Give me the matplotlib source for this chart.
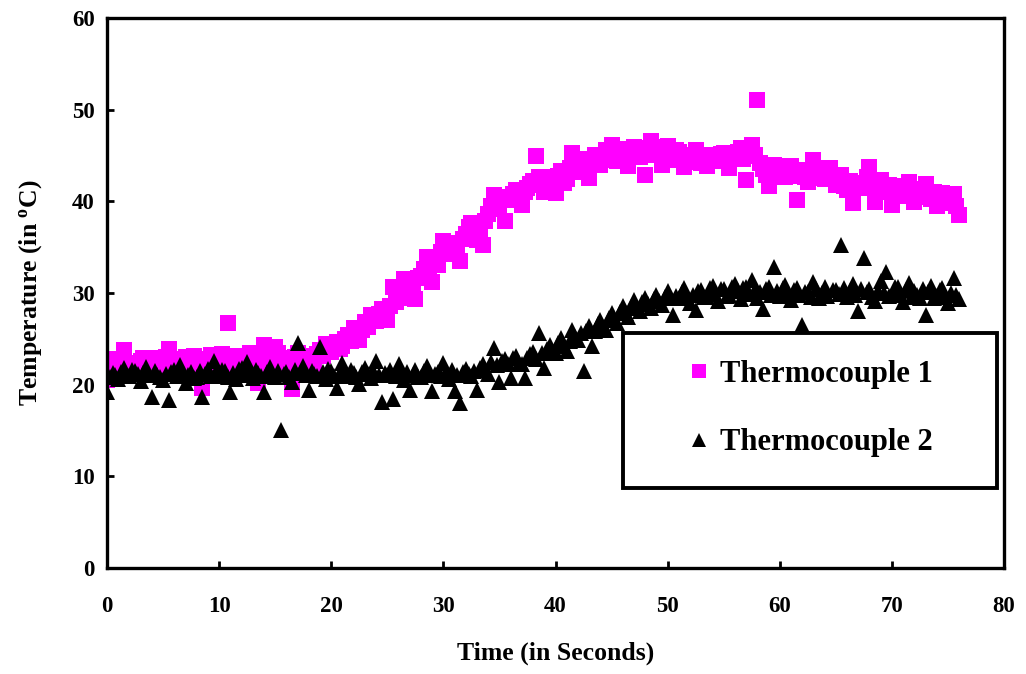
import matplotlib
matplotlib.use("Agg")
import matplotlib.pyplot as plt
from matplotlib.patches import Rectangle

plt.rcParams['font.family'] = ['Liberation Serif', 'DejaVu Serif']
plt.rcParams['font.weight'] = 'bold'
plt.rcParams['mathtext.default'] = 'regular'

# time axis (s), logged every quarter second
time_s = [
    0.0, 0.25, 0.5, 0.75, 1.0, 1.25, 1.5, 1.75,
    2.0, 2.25, 2.5, 2.75, 3.0, 3.25, 3.5, 3.75,
    4.0, 4.25, 4.5, 4.75, 5.0, 5.25, 5.5, 5.75,
    6.0, 6.25, 6.5, 6.75, 7.0, 7.25, 7.5, 7.75,
    8.0, 8.25, 8.5, 8.75, 9.0, 9.25, 9.5, 9.75,
    10.0, 10.25, 10.5, 10.75, 11.0, 11.25, 11.5, 11.75,
    12.0, 12.25, 12.5, 12.75, 13.0, 13.25, 13.5, 13.75,
    14.0, 14.25, 14.5, 14.75, 15.0, 15.25, 15.5, 15.75,
    16.0, 16.25, 16.5, 16.75, 17.0, 17.25, 17.5, 17.75,
    18.0, 18.25, 18.5, 18.75, 19.0, 19.25, 19.5, 19.75,
    20.0, 20.25, 20.5, 20.75, 21.0, 21.25, 21.5, 21.75,
    22.0, 22.25, 22.5, 22.75, 23.0, 23.25, 23.5, 23.75,
    24.0, 24.25, 24.5, 24.75, 25.0, 25.25, 25.5, 25.75,
    26.0, 26.25, 26.5, 26.75, 27.0, 27.25, 27.5, 27.75,
    28.0, 28.25, 28.5, 28.75, 29.0, 29.25, 29.5, 29.75,
    30.0, 30.25, 30.5, 30.75, 31.0, 31.25, 31.5, 31.75,
    32.0, 32.25, 32.5, 32.75, 33.0, 33.25, 33.5, 33.75,
    34.0, 34.25, 34.5, 34.75, 35.0, 35.25, 35.5, 35.75,
    36.0, 36.25, 36.5, 36.75, 37.0, 37.25, 37.5, 37.75,
    38.0, 38.25, 38.5, 38.75, 39.0, 39.25, 39.5, 39.75,
    40.0, 40.25, 40.5, 40.75, 41.0, 41.25, 41.5, 41.75,
    42.0, 42.25, 42.5, 42.75, 43.0, 43.25, 43.5, 43.75,
    44.0, 44.25, 44.5, 44.75, 45.0, 45.25, 45.5, 45.75,
    46.0, 46.25, 46.5, 46.75, 47.0, 47.25, 47.5, 47.75,
    48.0, 48.25, 48.5, 48.75, 49.0, 49.25, 49.5, 49.75,
    50.0, 50.25, 50.5, 50.75, 51.0, 51.25, 51.5, 51.75,
    52.0, 52.25, 52.5, 52.75, 53.0, 53.25, 53.5, 53.75,
    54.0, 54.25, 54.5, 54.75, 55.0, 55.25, 55.5, 55.75,
    56.0, 56.25, 56.5, 56.75, 57.0, 57.25, 57.5, 57.75,
    58.0, 58.25, 58.5, 58.75, 59.0, 59.25, 59.5, 59.75,
    60.0, 60.25, 60.5, 60.75, 61.0, 61.25, 61.5, 61.75,
    62.0, 62.25, 62.5, 62.75, 63.0, 63.25, 63.5, 63.75,
    64.0, 64.25, 64.5, 64.75, 65.0, 65.25, 65.5, 65.75,
    66.0, 66.25, 66.5, 66.75, 67.0, 67.25, 67.5, 67.75,
    68.0, 68.25, 68.5, 68.75, 69.0, 69.25, 69.5, 69.75,
    70.0, 70.25, 70.5, 70.75, 71.0, 71.25, 71.5, 71.75,
    72.0, 72.25, 72.5, 72.75, 73.0, 73.25, 73.5, 73.75,
    74.0, 74.25, 74.5, 74.75, 75.0, 75.25, 75.5, 75.75,
    76.0,
]

thermo1 = [
    20.5, 21.9, 22.8, 22.2, 21.5, 22.6, 23.8, 22.4,
    22.0, 21.6, 21.2, 22.3, 22.6, 22.9, 21.8, 22.5,
    22.9, 22.1, 21.4, 22.7, 22.3, 23.0, 23.9, 22.6,
    22.1, 22.8, 21.6, 22.4, 23.0, 22.2, 22.4, 23.1,
    21.7, 22.0, 19.6, 22.5, 22.8, 23.2, 21.9, 22.6,
    22.5, 23.3, 22.8, 26.7, 22.0, 22.7, 23.1, 22.5,
    21.8, 22.9, 22.6, 23.5, 23.3, 21.5, 20.2, 22.8,
    24.3, 23.6, 22.2, 22.9, 24.1, 23.4, 22.9, 22.3,
    21.7, 22.8, 19.5, 23.0, 23.4, 22.6, 22.5, 23.1,
    23.0, 22.4, 21.9, 23.3, 23.8, 23.1, 24.4, 23.6,
    23.6, 24.1, 24.6, 23.9, 24.2, 25.0, 25.4, 24.8,
    26.2, 25.6, 24.9, 26.0, 26.8, 26.3, 27.6, 27.0,
    26.9, 27.7, 28.2, 27.4, 27.0, 28.6, 30.6, 29.0,
    29.4, 30.3, 31.5, 30.7, 30.2, 31.0, 29.3, 31.6,
    31.8, 32.6, 33.9, 32.4, 31.2, 33.4, 33.0, 34.5,
    35.7, 34.8, 34.2, 35.5, 35.1, 34.4, 33.5, 35.9,
    36.4, 37.2, 37.6, 36.5, 35.8, 37.0, 35.2, 37.9,
    38.6, 39.5, 40.7, 39.4, 39.2, 40.2, 37.8, 40.5,
    40.1, 40.8, 41.2, 40.4, 39.6, 41.0, 41.5, 41.9,
    42.2, 44.9, 42.6, 41.8, 41.0, 42.3, 42.6, 41.6,
    40.9, 42.8, 43.3, 42.0, 42.4, 43.6, 45.3, 43.2,
    43.5, 44.1, 44.6, 43.4, 42.5, 44.3, 45.1, 44.6,
    44.0, 45.0, 45.6, 44.5, 46.1, 45.2, 44.4, 45.7,
    45.3, 44.7, 43.8, 45.4, 45.9, 45.0, 44.8, 45.5,
    42.9, 45.8, 46.6, 45.1, 45.2, 45.9, 44.0, 45.3,
    46.0, 45.1, 44.5, 45.6, 45.4, 44.6, 43.7, 45.0,
    44.9, 44.3, 45.6, 44.8, 44.2, 45.1, 43.9, 44.6,
    45.0, 44.5, 44.4, 45.2, 45.3, 44.8, 43.6, 44.9,
    44.7, 45.4, 45.8, 44.6, 42.3, 44.9, 46.1, 45.0,
    51.1, 44.2, 43.5, 42.9, 41.7, 43.8, 44.0, 43.1,
    43.2, 43.9, 42.6, 43.4, 43.8, 42.8, 40.1, 43.0,
    43.4, 42.7, 42.1, 43.2, 44.5, 43.6, 43.0, 42.5,
    42.4, 43.1, 43.6, 42.8, 41.8, 42.5, 42.9, 41.7,
    41.2, 42.2, 39.8, 41.9, 42.0, 41.4, 41.5, 42.6,
    43.7, 41.8, 39.9, 41.6, 42.3, 41.2, 41.0, 41.8,
    39.6, 41.1, 41.7, 40.8, 40.6, 41.5, 42.1, 40.9,
    39.9, 40.7, 41.3, 40.5, 41.9, 40.8, 40.2, 41.0,
    39.5, 40.4, 40.9, 40.1, 39.8, 40.6, 40.8, 39.5,
    38.5,
]

thermo2 = [
    19.2, 20.8, 21.3, 21.0, 20.6, 21.4, 21.8, 20.9,
    20.9, 21.6, 21.5, 21.2, 20.4, 21.3, 21.9, 21.0,
    18.7, 21.5, 21.1, 20.8, 20.5, 21.2, 18.3, 21.4,
    21.6, 20.9, 22.1, 21.3, 20.2, 21.0, 21.4, 20.7,
    20.8, 21.5, 18.7, 21.2, 21.7, 20.9, 22.6, 21.4,
    20.9, 21.6, 21.5, 20.8, 19.2, 21.3, 20.6, 21.7,
    21.8, 21.1, 22.5, 21.4, 20.7, 21.6, 21.3, 20.9,
    19.2, 21.4, 21.9, 21.0, 20.8, 21.5, 15.0, 21.2,
    21.4, 20.8, 20.3, 21.6, 24.5, 21.3, 22.0, 21.0,
    19.4, 21.5, 21.2, 20.9, 24.1, 21.4, 20.6, 21.7,
    21.5, 20.9, 19.6, 21.3, 22.4, 21.0, 20.9, 21.6,
    21.3, 20.8, 20.1, 21.4, 21.8, 21.2, 20.7, 21.5,
    22.6, 21.0, 18.1, 21.3, 21.0, 21.6, 18.4, 20.9,
    22.3, 21.2, 20.5, 21.4, 19.4, 21.0, 21.6, 20.8,
    20.8, 21.5, 22.0, 21.1, 19.3, 21.2, 21.4, 20.9,
    22.4, 21.3, 20.6, 21.6, 19.3, 21.0, 18.0, 21.4,
    21.7, 21.2, 20.9, 21.5, 19.4, 21.8, 22.3, 21.6,
    21.2, 22.5, 24.0, 22.1, 20.3, 22.6, 22.8, 22.2,
    20.7, 22.9, 23.1, 22.4, 22.2, 20.7, 22.9, 23.3,
    23.6, 22.8, 25.6, 23.5, 21.8, 23.9, 24.3, 23.6,
    23.4, 24.5, 25.1, 24.2, 23.7, 24.8, 26.0, 25.2,
    24.9, 25.6, 21.5, 25.9, 26.4, 24.2, 25.8, 26.6,
    27.1, 26.3, 26.0, 27.3, 27.8, 27.0, 26.7, 27.9,
    28.6, 27.8, 27.4, 28.5, 29.2, 28.4, 28.0, 29.0,
    29.5, 28.8, 28.4, 29.3, 29.8, 29.1, 28.7, 29.6,
    30.2, 29.4, 27.6, 29.7, 29.4, 30.1, 30.5, 29.5,
    28.9, 29.8, 28.1, 30.2, 30.3, 29.6, 29.6, 30.5,
    30.8, 29.9, 29.1, 30.4, 30.4, 29.7, 29.8, 30.6,
    31.0, 30.2, 29.3, 30.5, 30.6, 29.9, 31.4, 30.3,
    29.5, 30.1, 28.3, 30.4, 30.7, 29.8, 32.8, 30.2,
    29.7, 30.5, 30.9, 29.9, 29.2, 30.3, 30.5, 29.8,
    26.5, 30.1, 30.1, 29.6, 31.2, 30.4, 29.4, 30.0,
    30.6, 29.7, 24.9, 30.3, 30.3, 29.9, 35.2, 30.5,
    29.6, 30.2, 31.0, 29.8, 28.0, 30.4, 33.8, 30.1,
    30.4, 29.6, 29.1, 30.2, 31.3, 30.0, 32.3, 29.7,
    29.8, 30.6, 30.7, 29.9, 29.0, 30.3, 31.1, 29.6,
    30.2, 29.8, 29.4, 30.4, 27.6, 30.1, 30.8, 29.5,
    29.7, 30.3, 30.5, 29.6, 28.9, 30.0, 31.6, 29.8,
    29.3,
]

x_ticks = [0, 10, 20, 30, 40, 50, 60, 70, 80]
y_ticks = [0, 10, 20, 30, 40, 50, 60]

fig = plt.figure(figsize=(10.26, 6.74), dpi=100)
ax = fig.add_axes([0.1043, 0.1573, 0.8743, 0.816])

ax.plot(time_s, thermo1, linestyle='none', marker='s', markersize=11.5,
        color='#ff00ff', markeredgewidth=0, label='Thermocouple 1', zorder=2)
ax.plot(time_s, thermo2, linestyle='none', marker='^', markersize=11,
        color='black', markeredgewidth=0, label='Thermocouple 2', zorder=3)

ax.set_xlim(0, 80)
ax.set_ylim(0, 60)
ax.set_xticks(x_ticks)
ax.set_yticks(y_ticks)

for sp in ax.spines.values():
    sp.set_linewidth(2.4)
ax.tick_params(direction='in', length=5, width=2, labelsize=16.5)
ax.tick_params(axis='x', pad=20)
ax.tick_params(axis='y', pad=9)

ax.set_xlabel('Time (in Seconds)', fontsize=18.5, fontweight='bold', labelpad=18)
ax.set_ylabel(r'Temperature (in $^{o}$C)', fontsize=18.5, fontweight='bold', labelpad=20)

# legend box (drawn by hand so the padding matches the original)
box = Rectangle((0.575, 0.145), 0.417, 0.282, transform=ax.transAxes,
                facecolor='white', edgecolor='black', linewidth=2.8, zorder=5)
ax.add_patch(box)
leg = ax.legend(loc='center', bbox_to_anchor=(0.7835, 0.29), frameon=False,
                prop={'weight': 'bold', 'size': 22}, markerscale=0.9,
                labelspacing=1.3, handletextpad=0.3, handlelength=0.8)
leg.set_zorder(6)

fig.savefig('out.png', dpi=100)
